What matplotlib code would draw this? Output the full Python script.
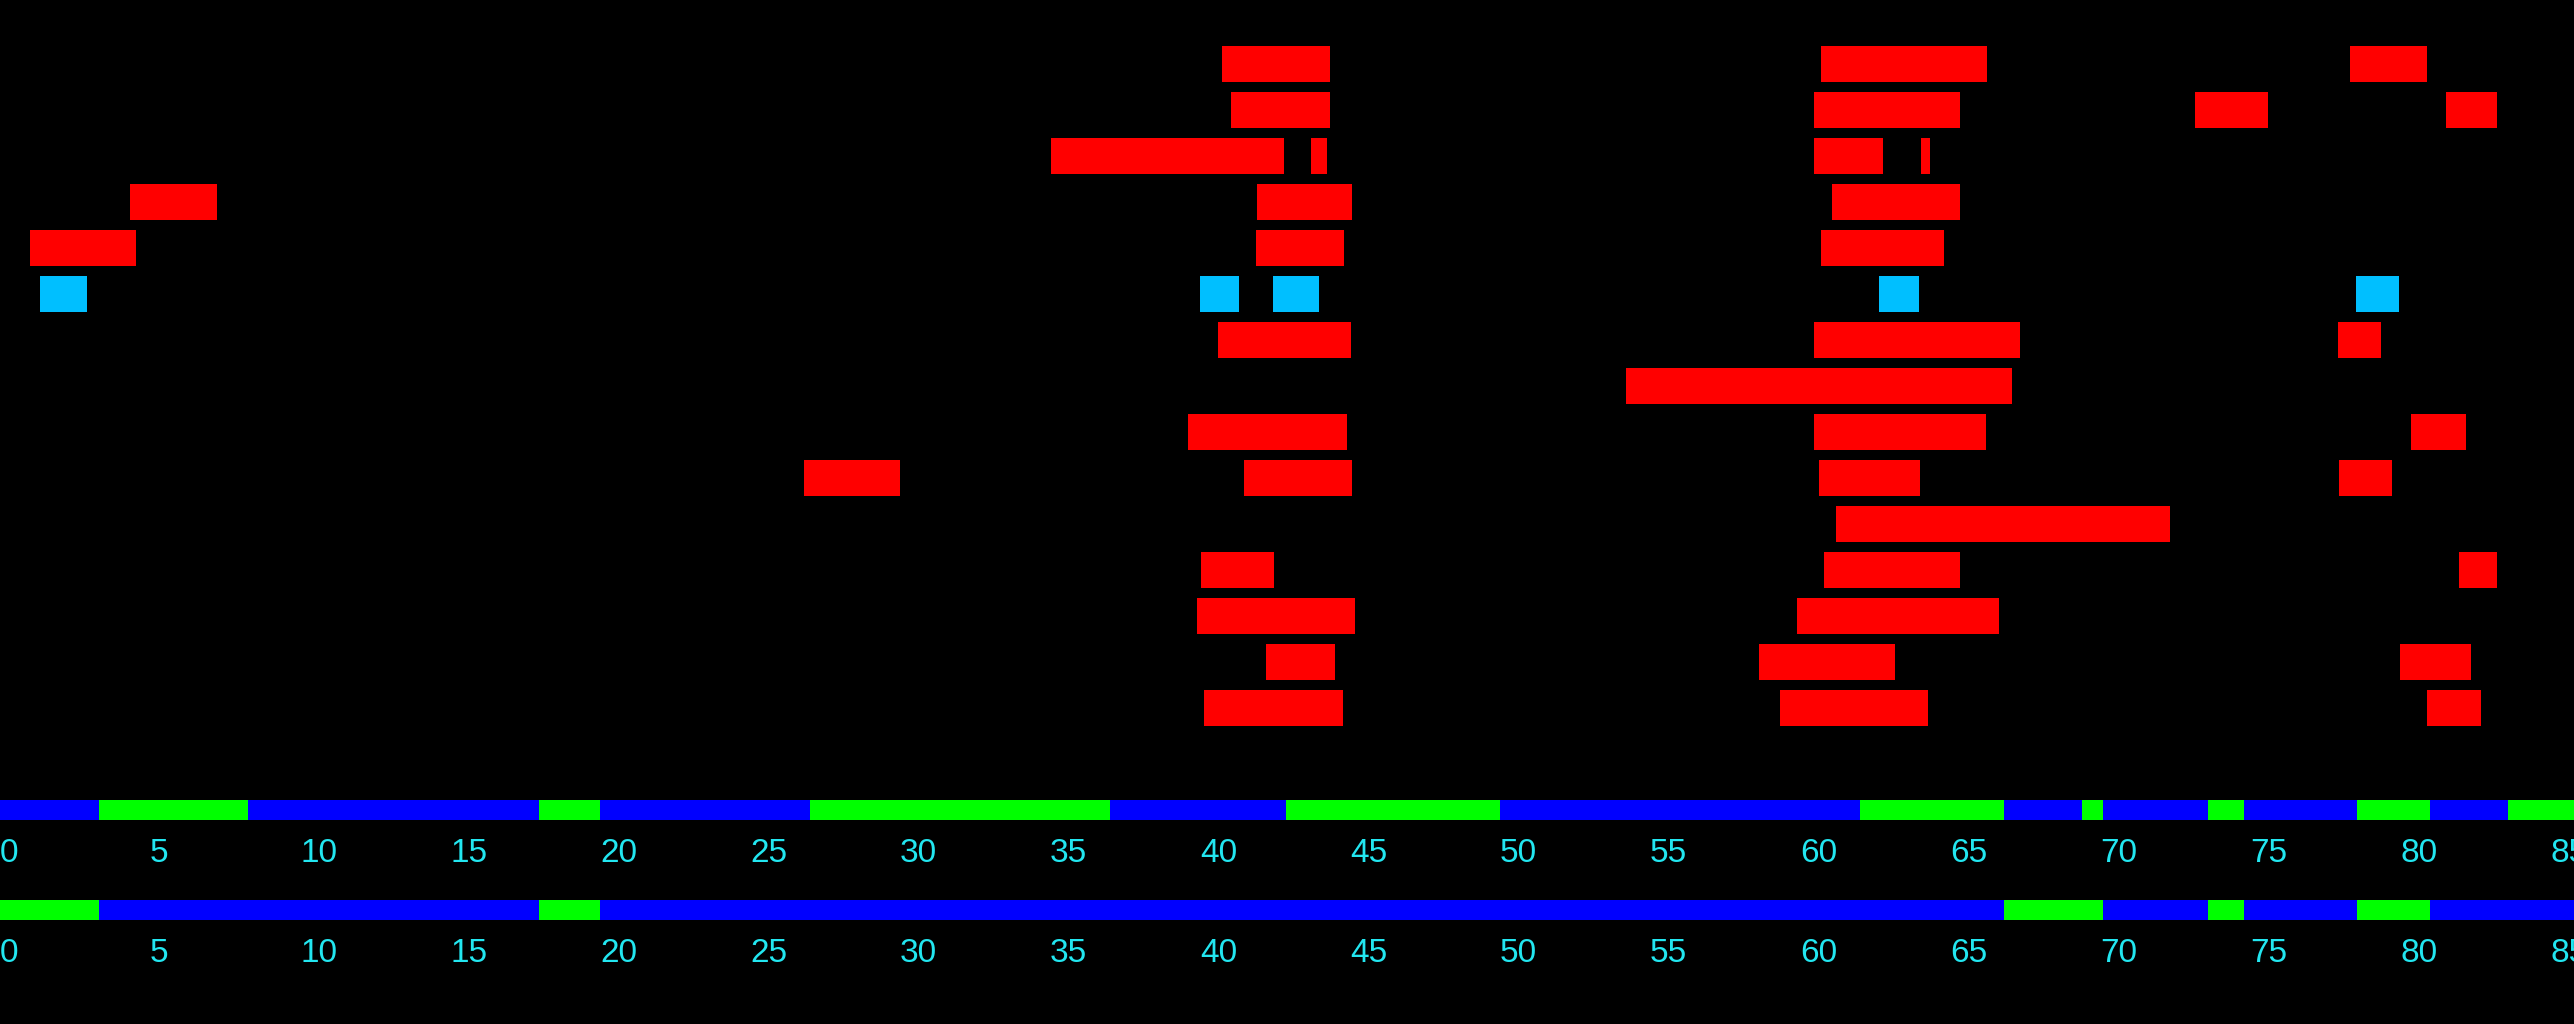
import matplotlib
matplotlib.use("Agg")
import matplotlib.pyplot as plt

# ---------------- data ----------------
# red task bars: row index (1 = top), start, end
red_rows   = [1, 1, 1,
              2, 2, 2, 2,
              3, 3, 3, 3,
              4, 4, 4,
              5, 5, 5,
              7, 7, 7,
              8,
              9, 9, 9,
              10, 10, 10, 10,
              11,
              12, 12, 12,
              13, 13,
              14, 14, 14,
              15, 15, 15]
red_starts = [40.73, 60.71, 78.33,
              41.03, 60.46, 73.17, 81.52,
              35.03, 43.70, 60.46, 64.02,
              4.33, 41.90, 61.06,
              1.00, 41.87, 60.71,
              40.60, 60.46, 77.93,
              54.20,
              39.60, 60.46, 80.37,
              26.80, 41.47, 60.63, 77.97,
              61.20,
              40.03, 60.80, 81.97,
              39.90, 59.90,
              42.20, 58.64, 80.00,
              40.13, 59.33, 80.90]
red_ends   = [44.33, 66.23, 80.90,
              44.33, 65.34, 75.60, 83.23,
              42.80, 44.22, 62.77, 64.33,
              7.23, 45.07, 65.34,
              4.53, 44.80, 64.80,
              45.03, 67.34, 79.37,
              67.07,
              44.90, 66.20, 82.20,
              30.00, 45.07, 64.00, 79.73,
              72.34,
              42.47, 65.34, 83.23,
              45.17, 66.64,
              44.50, 63.17, 82.37,
              44.77, 64.26, 82.70]

# cyan markers (all on row 6)
cyan_rows   = [6, 6, 6, 6, 6]
cyan_starts = [1.33, 40.00, 42.43, 62.63, 78.53]
cyan_ends   = [2.90, 41.30, 43.97, 63.97, 79.97]

# state bands along the time axis
band1_edges  = [0, 3.3, 8.25, 17.95, 20.0, 27.0, 37.0, 42.87, 50.0, 62.0,
                66.8, 69.4, 70.1, 73.6, 74.8, 78.55, 81.0, 83.6, 85.8]
band1_states = ["blue", "green", "blue", "green", "blue", "green", "blue",
                "green", "blue", "green", "blue", "green", "blue", "green",
                "blue", "green", "blue", "green"]
band2_edges  = [0, 3.3, 17.95, 20.0, 66.8, 70.1, 73.6, 74.8, 78.55, 81.0, 85.8]
band2_states = ["green", "blue", "green", "blue", "green", "blue", "green",
                "blue", "green", "blue"]

tick_values = list(range(0, 90, 5))
tick_labels = [str(v) for v in tick_values]

# ---------------- style ----------------
W, H = 2574, 1024
DPI = 100
XMAX = 85.8
N_ROWS = 15
RED = "#ff0000"
CYAN_BAR = "#00bfff"
STATE_COLORS = {"blue": "#0000ff", "green": "#00ff00"}
LABEL_COLOR = "#22e6f0"
FONT = ["Liberation Sans Narrow", "Liberation Sans", "DejaVu Sans"]

fig = plt.figure(figsize=(W / DPI, H / DPI), dpi=DPI, facecolor="black")

# main gantt area: rows spaced 46 px, first row center at 63.8 px from top
row_px = 46.0
top_px = 63.8 - row_px / 2
bot_px = top_px + N_ROWS * row_px
ax = fig.add_axes([0, 1 - bot_px / H, 1, (bot_px - top_px) / H])
ax.set_facecolor("black")
ax.set_xlim(0, XMAX)
ax.set_ylim(N_ROWS + 0.5, 0.5)
ax.axis("off")

bar_h = 36.0 / row_px
ax.barh(red_rows, [e - s for s, e in zip(red_starts, red_ends)], left=red_starts,
        height=bar_h, color=RED, linewidth=0)
ax.barh(cyan_rows, [e - s for s, e in zip(cyan_starts, cyan_ends)], left=cyan_starts,
        height=bar_h, color=CYAN_BAR, linewidth=0)


def band_axis(y_top_px, edges, states):
    b = fig.add_axes([0, 1 - (y_top_px + 20) / H, 1, 20 / H])
    b.set_facecolor("black")
    b.set_xlim(0, XMAX)
    b.set_ylim(0, 1)
    lefts = edges[:-1]
    widths = [edges[i + 1] - edges[i] for i in range(len(edges) - 1)]
    b.barh([0.5] * len(lefts), widths, left=lefts, height=1.0,
           color=[STATE_COLORS[s] for s in states], linewidth=0)
    for sp in b.spines.values():
        sp.set_visible(False)
    b.set_yticks([])
    b.set_xticks(tick_values)
    b.set_xticklabels(tick_labels, family=FONT, fontsize=24, color=LABEL_COLOR,
                      ha="left")
    b.tick_params(axis="x", length=0, pad=13)
    return b


band_axis(800, band1_edges, band1_states)
band_axis(900, band2_edges, band2_states)

fig.savefig("out.png", dpi=DPI, facecolor="black")
